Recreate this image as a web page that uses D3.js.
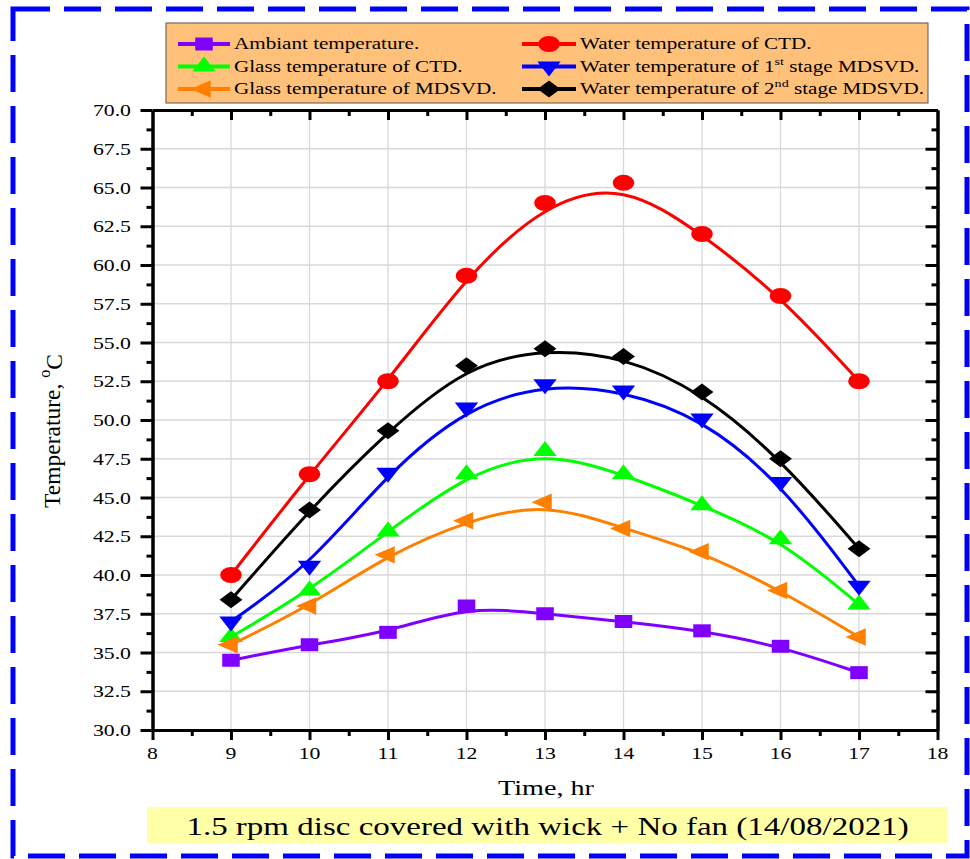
<!DOCTYPE html>
<html><head><meta charset="utf-8">
<script src="https://cdn.jsdelivr.net/npm/d3@7"></script>
<style>
body{margin:0;background:#fff}
svg{display:block}
text{font-family:"Liberation Serif","Times New Roman",serif;fill:#000}
</style>
</head><body>
<svg id="c" width="970" height="859"></svg>
<script>
// ---- data ----
const hours = [9, 10, 11, 12, 13, 14, 15, 16, 17];
const ambient    = [34.5, 35.5, 36.3, 38.0, 37.5, 37.0, 36.4, 35.4, 33.7];
const waterCTD   = [40.0, 46.5, 52.5, 59.3, 64.0, 65.3, 62.0, 58.0, 52.5];
const glassCTD   = [36.0, 39.0, 42.8, 46.5, 48.0, 46.5, 44.5, 42.3, 38.1];
const water1st   = [37.0, 40.6, 46.6, 50.8, 52.3, 51.9, 50.1, 46.0, 39.3];
const glassMDSVD = [35.5, 38.0, 41.3, 43.5, 44.7, 43.0, 41.5, 39.0, 36.0];
const water2nd   = [38.4, 44.2, 49.3, 53.5, 54.6, 54.1, 51.8, 47.5, 41.7];
const xTickValues = [8, 9, 10, 11, 12, 13, 14, 15, 16, 17, 18];
const yTickValues = [30, 32.5, 35, 37.5, 40, 42.5, 45, 47.5, 50, 52.5, 55, 57.5, 60, 62.5, 65, 67.5, 70];
const xTitle = "Time, hr";
const captionText = "1.5 rpm disc covered with wick + No fan (14/08/2021)";

const series = [
  {name: "Ambiant temperature.", values: ambient, color: "#8000FF", shape: "square"},
  {name: "Water temperature of CTD.", values: waterCTD, color: "#FF0000", shape: "circle"},
  {name: "Glass temperature of CTD.", values: glassCTD, color: "#00FF00", shape: "up"},
  {name: "Water temperature of 1|st| stage MDSVD.", values: water1st, color: "#0000FF", shape: "down"},
  {name: "Glass temperature of MDSVD.", values: glassMDSVD, color: "#FF8000", shape: "left"},
  {name: "Water temperature of 2|nd| stage MDSVD.", values: water2nd, color: "#000000", shape: "diamond"}
];

const SX = 1.28;   // horizontal text stretch
const MS = 1.35;   // horizontal marker stretch
const svg = d3.select("#c");

// border
svg.append("rect").attr("x", 13).attr("y", 9).attr("width", 954).attr("height", 847)
  .attr("fill", "none").attr("stroke", "#0000FF").attr("stroke-width", 5)
  .attr("stroke-dasharray", "37,14");

const x = d3.scaleLinear().domain([8, 18]).range([152.5, 937.5]);
const y = d3.scaleLinear().domain([30, 70]).range([730, 110]);

// grid
const g = svg.append("g");
g.selectAll(".gx").data(xTickValues.slice(1, -1)).join("line")
  .attr("x1", d => x(d)).attr("x2", d => x(d)).attr("y1", y(30)).attr("y2", y(70))
  .attr("stroke", "#d9d9d9").attr("stroke-width", 1.3);
g.selectAll(".gy").data(yTickValues.slice(1, -1)).join("line")
  .attr("y1", d => y(d)).attr("y2", d => y(d)).attr("x1", x(8)).attr("x2", x(18))
  .attr("stroke", "#d9d9d9").attr("stroke-width", 1.3);

// axes
const xMinor = d3.range(8.5, 18, 1);
const yMinor = d3.range(31.25, 70, 2.5);
function styleAxis(sel) {
  sel.select(".domain").attr("stroke-width", 3).attr("stroke", "#000");
  sel.selectAll(".tick line").attr("stroke-width", 3).attr("stroke", "#000");
  sel.selectAll(".tick text").remove();
}
const ax = (gen, tx, ty) => svg.append("g").attr("transform", `translate(${tx},${ty})`).call(gen).call(styleAxis);
ax(d3.axisBottom(x).tickValues(xTickValues).tickSize(10).tickSizeOuter(0), 0, y(30));
ax(d3.axisBottom(x).tickValues(xMinor).tickSize(6).tickSizeOuter(0), 0, y(30));
ax(d3.axisBottom(x).tickValues(xTickValues.slice(1, -1)).tickSize(10).tickSizeOuter(0), 0, y(70));
ax(d3.axisBottom(x).tickValues(xMinor).tickSize(6).tickSizeOuter(0), 0, y(70));
ax(d3.axisLeft(y).tickValues(yTickValues).tickSize(12).tickSizeOuter(0), x(8), 0);
ax(d3.axisLeft(y).tickValues(yMinor).tickSize(6).tickSizeOuter(0), x(8), 0);
ax(d3.axisLeft(y).tickValues(yTickValues.slice(1, -1)).tickSize(12).tickSizeOuter(0), x(18), 0);
ax(d3.axisLeft(y).tickValues(yMinor).tickSize(6).tickSizeOuter(0), x(18), 0);

function stext(px, py, str, size, anchor, sx) {
  return svg.append("text").attr("transform", `translate(${px},${py}) scale(${sx || SX},1)`)
    .attr("font-size", size).attr("text-anchor", anchor || "start").text(str);
}
xTickValues.forEach(v => stext(x(v), 759, String(v), 17, "middle"));
yTickValues.forEach(v => stext(131, y(v) + 6, v.toFixed(1), 17, "end"));

stext(546, 795, xTitle, 22, "middle");

// y title
const yt = svg.append("text").attr("transform", "translate(60,431) rotate(-90)")
  .attr("font-size", 23.5).attr("text-anchor", "middle");
yt.append("tspan").text("Temperature, ");
yt.append("tspan").attr("font-size", 16).attr("dy", -10).text("o");
yt.append("tspan").attr("dy", 12).text("C");

// markers
function symPath(shape) {
  if (shape === "square") return d3.symbol(d3.symbolSquare, 169)();
  if (shape === "circle") return d3.symbol(d3.symbolCircle, Math.PI * 64)();
  if (shape === "diamond") return d3.symbol(d3.symbolSquare, 144)();
  return d3.symbol(d3.symbolTriangle, 130)();
}
function symRot(shape) {
  return {down: 180, left: -90, diamond: 45}[shape] || 0;
}
function marker(sel, shape, color, px, py, ms) {
  sel.append("path").attr("d", symPath(shape))
    .attr("transform", `translate(${px},${py}) scale(${ms},1) rotate(${symRot(shape)})`)
    .attr("fill", color);
}

const line = d3.line().x((d, i) => x(hours[i])).y(d => y(d)).curve(d3.curveBasis);
series.forEach(s => {
  const sg = svg.append("g");
  sg.append("path").attr("d", line(s.values)).attr("fill", "none")
    .attr("stroke", s.color).attr("stroke-width", 3);
  s.values.forEach((v, i) => marker(sg, s.shape, s.color, x(hours[i]), y(v), MS));
});

// legend
svg.append("rect").attr("x", 166).attr("y", 23).attr("width", 762).attr("height", 80)
  .attr("fill", "#FFC07A").attr("stroke", "#555").attr("stroke-width", 1);
const legPos = [[0, 0], [1, 0], [0, 1], [1, 1], [0, 2], [1, 2]];
const colX = [[178, 230, 234], [522, 576, 580]];
const rowY = [44, 66.5, 89];
series.forEach((s, i) => {
  const [c, r] = legPos[i];
  const [x1, x2, tx] = colX[c];
  const lg = svg.append("g");
  lg.append("line").attr("x1", x1).attr("x2", x2).attr("y1", rowY[r]).attr("y2", rowY[r])
    .attr("stroke", s.color).attr("stroke-width", 4);
  marker(lg, s.shape, s.color, (x1 + x2) / 2, rowY[r], MS);
  const t = svg.append("text").attr("transform", `translate(${tx},${rowY[r] + 5}) scale(${SX},1)`)
    .attr("font-size", 16.5);
  const parts = s.name.split("|");
  parts.forEach((p, k) => {
    if (k % 2 === 1) t.append("tspan").attr("font-size", 11).attr("dy", -7).text(p);
    else t.append("tspan").attr("dy", k ? 7 : 0).text(p);
  });
});

// caption
svg.append("rect").attr("x", 147).attr("y", 807).attr("width", 801).attr("height", 36).attr("fill", "#FFFFA8");
stext(547.5, 835, captionText, 25, "middle", 1.32);
</script>
</body></html>
